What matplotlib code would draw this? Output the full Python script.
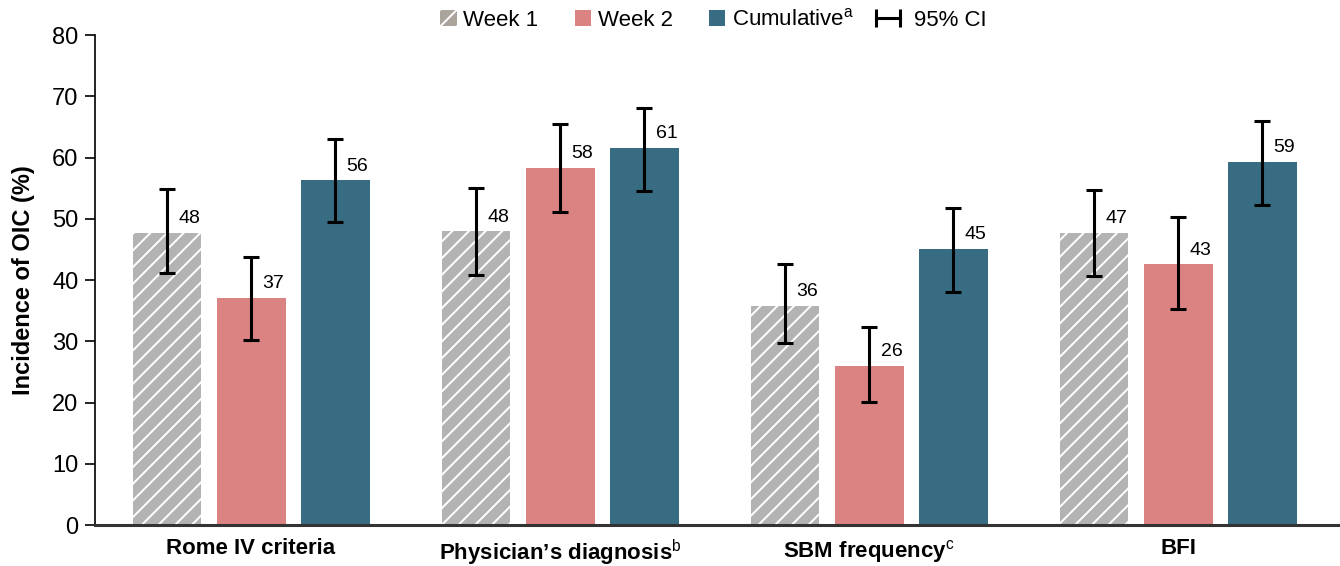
import numpy as np
import matplotlib.pyplot as plt
from matplotlib.lines import Line2D
from matplotlib.patches import Patch, Rectangle
from matplotlib.legend_handler import HandlerPatch

plt.rcParams['font.family'] = ['Liberation Sans', 'DejaVu Sans']
plt.rcParams['mathtext.fontset'] = 'custom'
plt.rcParams['mathtext.rm'] = 'Liberation Sans'
plt.rcParams['mathtext.it'] = 'Liberation Sans'
plt.rcParams['mathtext.bf'] = 'Liberation Sans:bold'
plt.rcParams['hatch.color'] = 'white'
plt.rcParams['hatch.linewidth'] = 1.4

categories = ['Rome IV criteria', 'Physician\u2019s diagnosis$^{\\mathrm{b}}$',
              'SBM frequency$^{\\mathrm{c}}$', 'BFI']
week1 = [47.7, 48.0, 35.8, 47.7]
week1_lo = [41.1, 40.8, 29.7, 40.7]
week1_hi = [54.9, 55.0, 42.6, 54.7]
week2 = [37.1, 58.3, 26.0, 42.6]
week2_lo = [30.2, 51.1, 20.1, 35.3]
week2_hi = [43.8, 65.5, 32.3, 50.3]
cumul = [56.3, 61.6, 45.1, 59.3]
cumul_lo = [49.5, 54.5, 38.0, 52.2]
cumul_hi = [63.0, 68.1, 51.8, 66.0]
labels1 = ['48', '48', '36', '47']
labels2 = ['37', '58', '26', '43']
labels3 = ['56', '61', '45', '59']

c1 = '#b3b3b3'
c2 = '#db8282'
c3 = '#376c82'

fig = plt.figure(figsize=(13.4, 5.66), dpi=100)
ax = fig.add_axes([0.0709, 0.0724, 0.9291, 0.8656])

x = np.arange(len(categories))
w = 0.223
step = 0.272
series = [(week1, week1_lo, week1_hi, labels1, c1, '//'),
          (week2, week2_lo, week2_hi, labels2, c2, None),
          (cumul, cumul_lo, cumul_hi, labels3, c3, None)]
for i, (vals, lo, hi, labs, col, hatch) in enumerate(series):
    xs = x + (i - 1) * step
    ax.bar(xs, vals, w, color=col, hatch=hatch, edgecolor='white' if hatch else col,
           linewidth=0)
    vals = np.array(vals)
    err = [vals - np.array(lo), np.array(hi) - vals]
    ax.errorbar(xs, vals, yerr=err, fmt='none', ecolor='black', elinewidth=2.2,
                capsize=5.5, capthick=2.2)
    for xi, v, t in zip(xs, vals, labs):
        ax.text(xi + 0.037, v + 0.9, t, fontsize=14, ha='left', va='bottom')

ax.set_xlim(-0.505, 3.524)
ax.set_ylim(0, 80)
ax.set_yticks(np.arange(0, 81, 10))
ax.tick_params(axis='y', labelsize=17, length=7, width=1.2, pad=5)
ax.set_xticks(x)
ax.set_xticklabels(categories, fontsize=16, fontweight='bold')
ax.tick_params(axis='x', length=0, pad=9)
ax.set_ylabel('Incidence of OIC (%)', fontsize=17, fontweight='bold', labelpad=12)
ax.spines['top'].set_visible(False)
ax.spines['right'].set_visible(False)
ax.spines['left'].set_linewidth(1.2)
ax.spines['bottom'].set_linewidth(2.2)
ax.spines['bottom'].set_color('#333333')


def square_patch(legend, orig_handle, xdescent, ydescent, width, height, fontsize):
    s = height * 1.1
    return Rectangle((-xdescent + width - s, -ydescent - 0.05 * height), s, s)


handles = [Patch(facecolor='#aaa49c', edgecolor='white', hatch='//', linewidth=0),
           Patch(facecolor=c2, linewidth=0),
           Patch(facecolor=c3, linewidth=0),
           Line2D([0], [0], color='black', lw=2.2, marker='|', markersize=13,
                  markeredgewidth=2.2)]
names = ['Week 1', 'Week 2', 'Cumulative$^{\\mathrm{a}}$', '95% CI']
hp = HandlerPatch(patch_func=square_patch)
fig.legend(handles, names, loc='center', bbox_to_anchor=(0.5245, 0.965), ncol=4,
           frameon=False, fontsize=16, numpoints=2, handlelength=1.67,
           handleheight=0.65, handletextpad=0.3, columnspacing=0.7,
           handler_map={handles[0]: hp, handles[1]: hp, handles[2]: hp})

fig.savefig('out.png', dpi=100)
